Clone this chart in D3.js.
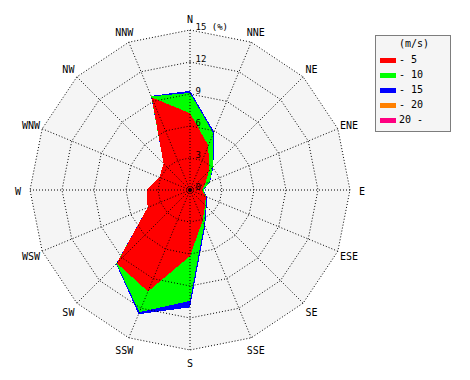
<!DOCTYPE html>
<html><head><meta charset="utf-8">
<script src="https://cdn.jsdelivr.net/npm/d3@7"></script>
<style>html,body{margin:0;padding:0;background:#fff;} svg{display:block;}</style>
</head><body>
<script>
// ---- data ----
const directions = ["N","NNE","NE","ENE","E","ESE","SE","SSE","S","SSW","SW","WSW","W","WNW","NW","NNW"];
const speedClasses = ["- 5","- 10","- 15","- 20","20 -"];
const classColors = ["#ff0000","#00ff00","#0000ff","#ff8000","#ff0080"];
// frequency (%) of each speed class per direction (N clockwise)
const freq0to5   = [7.2,4.5,2.5,1.55,1.1,1.6,2.0,3.1,6.2,10.3,9.7,4.3,4.05,3.1,3.5,9.4];
const freq5to10  = [1.9,1.25,0.5,0.45,0.15,0.05,0.1,0.4,4.2,2.1,0.05,0,0,0,0,0.1];
const freq10to15 = [0.2,0.15,0.1,0.05,0.05,0.05,0.1,0.2,0.6,0.2,0.05,0,0,0,0,0.05];
const freq15to20 = [0,0,0,0,0,0,0,0,0,0,0,0,0,0,0,0];
const freq20up   = [0,0,0,0,0,0,0,0,0,0,0,0,0,0,0,0];
const ringTicks = [0,3,6,9,12,15];
const ringLabels = ["0","3","6","9","12","15 (%)"];
const unitLabel = "(m/s)";

// ---- layout ----
const W = 470, H = 380, cx = 190, cy = 190, R = 160;
const mono = "'DejaVu Sans Mono', monospace";
const svg = d3.select("body").append("svg").attr("width", W).attr("height", H);
const r = d3.scaleLinear().domain([0, 15]).range([0, R]);
const ang = d3.scaleLinear().domain([0, directions.length]).range([0, 2 * Math.PI]);
const g = svg.append("g").attr("transform", `translate(${cx},${cy})`);

const ringLine = d3.lineRadial().angle((d, i) => ang(i)).radius(d => r(d)).curve(d3.curveLinearClosed);

// background disc (16-gon)
g.append("path").attr("d", ringLine(directions.map(() => 15))).attr("fill", "#f5f5f5");

// stacked series
const series = [freq0to5, freq5to10, freq10to15, freq15to20, freq20up];
const cum = [];
series.forEach((s, k) => {
  cum.push(s.map((v, i) => v + (k > 0 ? cum[k - 1][i] : 0)));
});
for (let k = series.length - 1; k >= 0; k--) {
  if (d3.sum(series[k]) === 0) continue;
  g.append("path").attr("d", ringLine(cum[k]))
    .attr("fill", classColors[k]).attr("shape-rendering", "crispEdges");
}

// grid rings
ringTicks.filter(t => t > 0).forEach(t => {
  g.append("path").attr("d", ringLine(directions.map(() => t)))
    .attr("fill", "none").attr("stroke", "#000").attr("stroke-width", 1)
    .attr("stroke-dasharray", "1,2");
});
// spokes
directions.forEach((d, i) => {
  const a = ang(i);
  g.append("line").attr("x1", 0).attr("y1", 0)
    .attr("x2", r(15) * Math.sin(a)).attr("y2", -r(15) * Math.cos(a))
    .attr("stroke", "#000").attr("stroke-width", 1).attr("stroke-dasharray", "1,2");
});
g.append("circle").attr("r", 2).attr("fill", "#000");

// ring labels
ringTicks.forEach((t, i) => {
  g.append("text").attr("x", 5.5).attr("y", -r(t) - 0.5)
    .attr("font-family", mono).attr("font-size", 9).attr("fill", "#000")
    .attr("xml:space", "preserve").style("white-space", "pre")
    .text(ringLabels[i]);
});

// direction labels
directions.forEach((d, i) => {
  const a = ang(i), lr = 172;
  g.append("text").attr("x", lr * Math.sin(a)).attr("y", -lr * Math.cos(a) + 1)
    .attr("dy", "0.36em").attr("text-anchor", "middle")
    .attr("font-family", mono).attr("font-size", 10).attr("fill", "#000")
    .text(d);
});

// legend
const lg = svg.append("g");
lg.append("rect").attr("x", 375.5).attr("y", 35.5).attr("width", 75).attr("height", 96)
  .attr("fill", "#f5f5f5").attr("stroke", "#000").attr("stroke-dasharray", "1,1");
lg.append("text").attr("x", 414).attr("y", 47).attr("text-anchor", "middle")
  .attr("font-family", mono).attr("font-size", 10).text(unitLabel);
speedClasses.forEach((c, i) => {
  lg.append("rect").attr("x", 380).attr("y", 58 + i * 15).attr("width", 16).attr("height", 5)
    .attr("fill", classColors[i]);
  lg.append("text").attr("x", 399).attr("y", 63 + i * 15)
    .attr("font-family", mono).attr("font-size", 10).attr("xml:space", "preserve")
    .style("white-space", "pre").text(c);
});
</script>
</body></html>
